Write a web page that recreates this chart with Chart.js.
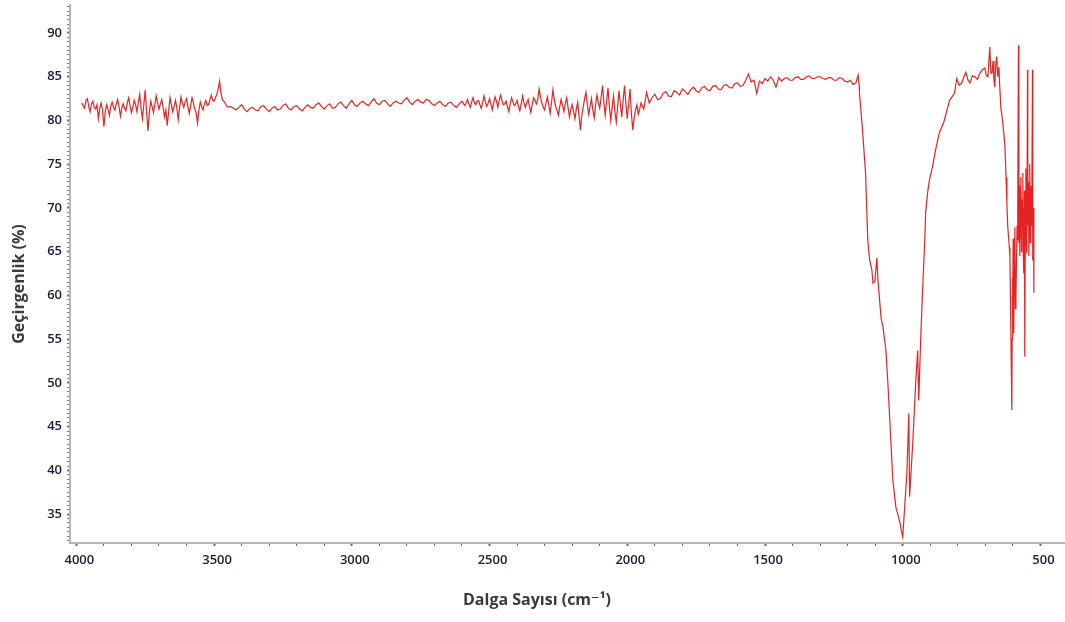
<!DOCTYPE html>
<html>
<head>
<meta charset="utf-8">
<script src="https://cdn.jsdelivr.net/npm/chart.js@4.4.0/dist/chart.umd.min.js"></script>
<style>
  html, body { margin: 0; padding: 0; background: #fff; }
  #wrap { width: 1065px; height: 622px; }
</style>
</head>
<body>
<div id="wrap"><canvas id="irChart" width="1065" height="622"></canvas></div>
<script>
// wavenumber (cm-1) / transmittance (%), in pieces
const wn1 = [3980, 3975, 3970, 3965, 3960, 3955, 3950, 3945, 3940, 3935,
  3930, 3925, 3920, 3915, 3910, 3905, 3900, 3895, 3890, 3885,
  3880, 3875, 3870, 3865, 3860, 3855, 3850, 3845, 3840, 3835,
  3830, 3825, 3820, 3815, 3810, 3805, 3800, 3795, 3790, 3785,
  3780, 3775, 3770, 3765, 3760, 3755, 3750, 3745, 3740, 3735,
  3730, 3725, 3720, 3715, 3710, 3705, 3700, 3695, 3690, 3685,
  3680, 3675, 3670, 3665, 3660, 3655, 3650, 3645, 3640, 3635,
  3630, 3625, 3620, 3615, 3610, 3605, 3600, 3595, 3590, 3585,
  3580, 3575, 3570, 3565, 3560, 3555, 3550, 3545, 3540, 3535,
  3530, 3525, 3520, 3515, 3510, 3505, 3500, 3495, 3490, 3485,
  3480, 3475, 3470, 3465, 3460, 3455, 3450];
const t1 = [82.0, 81.7, 81.4, 82.3, 82.5, 81.6, 81.0, 81.9, 82.2, 81.5,
  81.3, 81.8, 80.2, 81.4, 82.0, 81.2, 79.3, 81.0, 81.8, 81.3,
  80.6, 81.6, 82.1, 81.5, 81.2, 81.9, 82.4, 81.6, 80.5, 81.4,
  81.9, 81.4, 81.1, 82.0, 82.6, 81.7, 80.9, 81.5, 82.3, 81.8,
  81.0, 82.1, 83.0, 81.4, 80.2, 81.8, 83.5, 81.0, 78.8, 80.9,
  82.2, 81.6, 80.9, 81.8, 82.8, 82.0, 81.3, 81.9, 82.4, 81.5,
  80.4, 81.2, 79.4, 81.0, 82.6, 81.8, 81.0, 81.6, 82.3, 81.4,
  80.1, 81.5, 82.7, 82.0, 81.5, 82.1, 82.5, 81.6, 80.8, 81.7,
  82.6, 82.0, 81.3, 80.9, 79.7, 81.2, 82.1, 81.6, 81.2, 81.9,
  82.3, 81.7, 81.8, 82.4, 82.9, 82.3, 82.2, 82.6, 83.0, 83.6,
  84.5, 83.1, 82.4, 82.2, 82.0, 81.7, 81.5];

const wn2 = [3440, 3430, 3420, 3410, 3400, 3390, 3380, 3370, 3360, 3350,
  3340, 3330, 3320, 3310, 3300, 3290, 3280, 3270, 3260, 3250,
  3240, 3230, 3220, 3210, 3200, 3190, 3180, 3170, 3160, 3150,
  3140, 3130, 3120, 3110, 3100, 3090, 3080, 3070, 3060, 3050,
  3040, 3030, 3020, 3010, 3000, 2990, 2980, 2970, 2960, 2950,
  2940, 2930, 2920, 2910, 2900, 2890, 2880, 2870, 2860, 2850,
  2840, 2830, 2820, 2810, 2800, 2790, 2780, 2770, 2760, 2750,
  2740, 2730, 2720, 2710, 2700, 2690, 2680, 2670, 2660, 2650,
  2640, 2630, 2620, 2610, 2600];
const t2 = [81.6, 81.4, 81.2, 81.5, 81.8, 81.3, 81.0, 81.4, 81.5, 81.2,
  81.1, 81.6, 81.7, 81.3, 81.0, 81.4, 81.6, 81.2, 81.3, 81.7,
  81.9, 81.4, 81.2, 81.6, 81.7, 81.3, 81.1, 81.5, 81.8, 81.5,
  81.4, 81.8, 82.0, 81.6, 81.3, 81.7, 81.9, 81.4, 81.5, 81.9,
  82.1, 81.7, 81.4, 81.9, 82.3, 81.8, 81.6, 82.0, 82.2, 81.9,
  81.7, 82.1, 82.5, 82.0, 81.8, 82.2, 82.3, 81.9, 81.6, 82.0,
  82.2, 82.0, 81.9, 82.3, 82.6, 82.1, 81.8, 82.2, 82.4, 82.1,
  82.0, 82.4, 82.3, 81.9, 81.7, 82.0, 82.2, 81.8, 81.6, 82.0,
  82.1, 81.7, 81.5, 81.9, 82.2];

const wn3 = [2590, 2585, 2580, 2575, 2570, 2565, 2560, 2555, 2550, 2545,
  2540, 2535, 2530, 2525, 2520, 2515, 2510, 2505, 2500, 2495,
  2490, 2485, 2480, 2475, 2470, 2465, 2460, 2455, 2450, 2445,
  2440, 2435, 2430, 2425, 2420, 2415, 2410, 2405, 2400, 2395,
  2390, 2385, 2380, 2375, 2370, 2365, 2360, 2355, 2350, 2345,
  2340, 2335, 2330, 2325, 2320, 2315, 2310, 2305, 2300, 2295,
  2290, 2285, 2280, 2275, 2270, 2265, 2260, 2255, 2250, 2245,
  2240, 2235, 2230, 2225, 2220, 2215, 2210, 2205, 2200, 2195,
  2190, 2185, 2180, 2175, 2170, 2165, 2160, 2155, 2150, 2145,
  2140, 2135, 2130, 2125, 2120, 2115, 2110, 2105, 2100, 2095,
  2090, 2085, 2080, 2075, 2070, 2065, 2060, 2055, 2050, 2045,
  2040, 2035, 2030, 2025, 2020, 2015, 2010, 2005, 2000, 1995,
  1990, 1985, 1980, 1975, 1970, 1965, 1960, 1955, 1950];
const t3 = [81.7, 82.0, 82.4, 81.9, 81.5, 82.1, 82.6, 82.0, 81.8, 82.2,
  82.3, 81.8, 81.4, 82.0, 82.8, 82.1, 81.6, 82.0, 82.5, 81.9,
  81.2, 82.0, 82.7, 82.2, 81.5, 82.3, 82.9, 82.3, 81.8, 81.9,
  82.2, 81.6, 81.0, 81.9, 82.6, 82.1, 81.7, 81.9, 82.3, 81.6,
  81.1, 81.9, 82.8, 82.0, 81.5, 82.0, 82.4, 81.6, 80.9, 81.8,
  82.6, 82.3, 81.9, 82.4, 83.6, 82.7, 82.0, 81.5, 81.2, 82.0,
  82.7, 81.8, 80.8, 82.0, 83.5, 82.4, 81.6, 81.2, 80.6, 81.6,
  82.4, 81.7, 81.0, 81.9, 82.6, 81.5, 80.4, 81.2, 81.8, 81.0,
  80.2, 81.3, 82.1, 80.5, 78.9, 80.6, 81.5, 82.5, 83.2, 81.8,
  80.7, 81.6, 82.5, 81.2, 80.3, 81.8, 82.9, 82.0, 81.4, 82.6,
  84.0, 82.1, 80.6, 82.2, 83.7, 81.6, 80.0, 81.5, 82.8, 81.0,
  79.8, 81.6, 83.4, 81.8, 80.4, 82.3, 84.0, 81.9, 80.2, 81.9,
  83.6, 80.8, 78.9, 80.3, 81.2, 81.8, 80.7, 81.3, 82.0];

const wn4 = [1940, 1930, 1920, 1910, 1900, 1890, 1880, 1870, 1860, 1850,
  1840, 1830, 1820, 1810, 1800, 1790, 1780, 1770, 1760, 1750,
  1740, 1730, 1720, 1710, 1700, 1690, 1680, 1670, 1660, 1650,
  1640, 1630, 1620, 1610, 1600, 1590, 1580, 1570, 1560, 1550,
  1540, 1530, 1520, 1510, 1500, 1490, 1480, 1470, 1460, 1450,
  1440, 1430, 1420, 1410, 1400, 1390, 1380, 1370, 1360, 1350,
  1340, 1330, 1320, 1310, 1300, 1290, 1280, 1270, 1260, 1250,
  1240, 1230, 1220, 1210, 1200, 1190, 1180, 1170, 1162, 1158];
const t4 = [81.3, 83.2, 82.0, 82.6, 83.0, 82.4, 82.5, 83.1, 83.3, 82.8,
  82.7, 83.4, 83.2, 82.9, 83.6, 83.3, 83.0, 83.5, 83.8, 83.4,
  83.2, 83.7, 83.9, 83.5, 83.4, 83.9, 84.0, 83.6, 83.5, 84.0,
  84.1, 83.8, 83.7, 84.2, 84.3, 83.9, 84.0, 84.6, 85.3, 84.4,
  84.6, 83.1, 84.5, 84.2, 84.8, 84.5, 85.0, 84.6, 83.8, 84.9,
  84.5, 84.8, 84.9, 84.6, 84.6, 84.9, 85.0, 84.7, 84.7, 85.0,
  85.1, 84.8, 84.8, 85.0, 85.0, 84.8, 84.7, 84.9, 84.9, 84.6,
  84.6, 84.9, 84.8, 84.5, 84.4, 84.6, 84.1, 84.3, 85.2, 84.0];

// main band, recovery and the fingerprint region below 650
const wn5 = [1157, 1146, 1135, 1127, 1120, 1112, 1108, 1101, 1094, 1090,
  1079, 1072, 1061, 1054, 1047, 1036, 1025, 1010, 1003, 1000,
  992, 985, 978, 975, 963, 953, 946, 942, 935, 928,
  920, 917, 910, 903, 892, 881, 867, 851, 841, 830,
  812, 804, 795, 786, 778, 771, 763, 756, 747, 738,
  729, 720, 711, 702, 697, 691, 688, 684, 680, 676,
  672, 669, 666, 662, 659, 655, 651, 648, 644, 640,
  637, 633, 629, 625, 622, 619, 615, 613, 611, 609,
  608, 606, 604, 603, 602, 600, 599, 597, 595, 593,
  591, 589, 587, 585, 583, 582, 580, 579, 578, 576,
  575, 574, 572, 571, 569, 568, 566, 564, 563, 561,
  560, 558, 557, 555, 553, 552, 550, 549, 547, 546,
  544, 542, 541, 539, 537, 535, 533, 531, 529, 528,
  526, 524];
const t5 = [83.1, 78.9, 74.0, 66.3, 64.0, 62.9, 61.4, 61.6, 64.3, 61.8,
  57.5, 56.4, 53.7, 50.0, 45.7, 38.9, 35.8, 34.0, 32.8, 32.4,
  36.3, 39.7, 46.5, 37.0, 43.5, 50.0, 53.7, 48.0, 54.9, 60.6,
  66.3, 69.4, 71.7, 73.2, 74.7, 76.6, 78.6, 79.8, 81.0, 82.3,
  83.1, 84.8, 84.0, 84.3, 85.0, 85.5, 84.6, 84.3, 85.1, 85.0,
  84.7, 85.4, 85.8, 86.0, 85.2, 85.0, 86.4, 88.4, 85.4, 85.4,
  86.8, 84.6, 83.8, 86.5, 87.3, 85.0, 86.1, 84.0, 81.5, 80.6,
  79.7, 78.5, 77.0, 73.5, 70.6, 68.0, 66.3, 65.5, 64.4, 60.0,
  57.2, 52.0, 46.9, 55.0, 62.0, 58.5, 66.5, 55.7, 63.0, 67.8,
  58.5, 60.0, 64.0, 68.0, 66.3, 70.5, 88.6, 73.0, 66.0, 70.5,
  64.5, 72.5, 66.5, 73.5, 65.0, 71.0, 67.5, 74.0, 65.5, 70.0,
  62.5, 72.0, 53.0, 69.5, 74.5, 66.0, 72.0, 64.8, 85.8, 68.0,
  73.0, 64.5, 71.0, 75.0, 66.0, 72.5, 68.0, 73.0, 85.8, 64.0,
  70.0, 60.3];

const xTickLabels = [4000, 3500, 3000, 2500, 2000, 1500, 1000, 500];
const yTickLabels = [35, 40, 45, 50, 55, 60, 65, 70, 75, 80, 85, 90];
const xTitle = "Dalga Sayısı (cm⁻¹)";
const yTitle = "Geçirgenlik (%)";

const wavenumber = [].concat(wn1, wn2, wn3, wn4, wn5);
const transmittance = [].concat(t1, t2, t3, t4, t5);
const points = wavenumber.map((w, i) => ({ x: w, y: transmittance[i] }));

const tickFont = { family: "'Open Sans', 'DejaVu Sans', sans-serif", size: 13, weight: "600" };
const tickColor = "#1c1c3a";

function isMajor(list, v) {
  return list.some(m => Math.abs(m - v) < 1e-6);
}

// axis titles drawn by hand so they sit where the original has them
const axisTitles = {
  id: "axisTitles",
  afterDraw(chart) {
    const c = chart.ctx;
    c.save();
    c.fillStyle = "#3a3a3a";
    c.font = "bold 16px 'Open Sans', 'DejaVu Sans', sans-serif";
    c.textAlign = "center";
    c.textBaseline = "middle";
    c.fillText(xTitle, 537, 600);
    c.translate(19, 284);
    c.rotate(-Math.PI / 2);
    c.fillText(yTitle, 0, 0);
    c.restore();
  }
};

const ctx = document.getElementById("irChart").getContext("2d");
const chart = new Chart(ctx, {
  type: "line",
  data: {
    datasets: [{
      data: points,
      borderColor: "rgba(228, 10, 10, 0.9)",
      borderWidth: 1.2,
      pointRadius: 0,
      tension: 0,
      fill: false
    }]
  },
  options: {
    responsive: false,
    animation: false,
    layout: { padding: { top: 5, left: 0, right: 0, bottom: 0 } },
    plugins: {
      legend: { display: false },
      tooltip: { enabled: false }
    },
    scales: {
      x: {
        type: "linear",
        reverse: true,
        min: 411,
        max: 4023,
        afterFit(scale) {
          scale.height = 79;
          scale.paddingLeft = 0;
          scale.paddingRight = 0;
        },
        // minor tick every 100 cm-1, labels only on the 500s
        afterBuildTicks(scale) {
          const ticks = [];
          for (let v = 500; v <= 4000; v += 100) ticks.push({ value: v });
          scale.ticks = ticks;
        },
        ticks: {
          autoSkip: false,
          maxRotation: 0,
          padding: 6,
          labelOffset: 3,
          font: tickFont,
          color: tickColor,
          callback: v => isMajor(xTickLabels, v) ? String(v) : ""
        },
        grid: {
          drawOnChartArea: false,
          tickLength: 3,
          tickColor: "#666",
          tickWidth: c => isMajor(xTickLabels, c.tick.value) ? 2 : 1
        },
        border: { color: "#b4b4b4", width: 2 }
      },
      y: {
        min: 31.7,
        max: 93.2,
        afterFit(scale) {
          scale.width = 70;
          scale.paddingTop = 0;
          scale.paddingBottom = 0;
        },
        // minor tick every 0.5 %, labels only on the 5s
        afterBuildTicks(scale) {
          const ticks = [];
          for (let k = 64; k <= 186; k++) ticks.push({ value: k / 2 });
          scale.ticks = ticks;
        },
        ticks: {
          autoSkip: false,
          padding: 5,
          font: tickFont,
          color: tickColor,
          callback: v => isMajor(yTickLabels, v) ? String(v) : ""
        },
        grid: {
          drawOnChartArea: false,
          tickLength: 3,
          tickColor: "#777",
          tickWidth: c => isMajor(yTickLabels, c.tick.value) ? 2 : 1
        },
        border: { color: "#b4b4b4", width: 2 }
      }
    }
  },
  plugins: [axisTitles]
});
</script>
</body>
</html>
